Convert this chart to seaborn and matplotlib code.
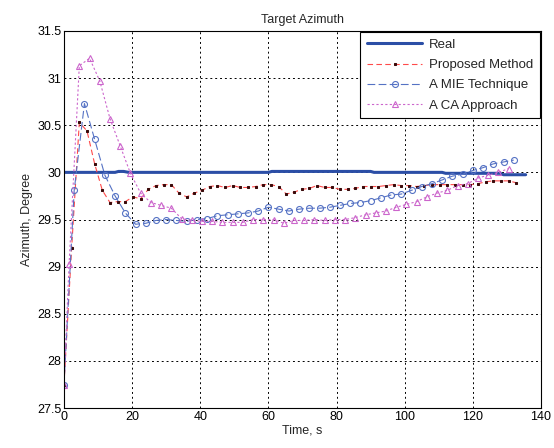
import numpy as np
import matplotlib
matplotlib.use("Agg")
import matplotlib.pyplot as plt
import seaborn as sns

# time grids (s)
t_prop = np.arange(0, 133, 2.25)
t_mie = np.arange(0, 133, 3.0)
t_ca = np.concatenate([[0.0], np.arange(1.5, 131, 3.0)])
t_real = [0, 15, 16, 17.5, 19, 60, 61, 90, 91, 111, 112, 128, 129, 135.5]

real = [30.0, 30.0, 30.01, 30.01, 30.0, 30.0, 30.01, 30.01, 30.0, 30.0,
        29.99, 29.99, 29.975, 29.975]

proposed = [27.75, 29.2, 30.53, 30.44, 30.09, 29.81, 29.68, 29.69, 29.69, 29.74,
            29.72, 29.82, 29.86, 29.87, 29.87, 29.78, 29.74, 29.78, 29.81, 29.85,
            29.86, 29.84, 29.86, 29.84, 29.84, 29.85, 29.87, 29.87, 29.85, 29.77,
            29.79, 29.82, 29.83, 29.86, 29.84, 29.84, 29.82, 29.82, 29.83, 29.85,
            29.85, 29.85, 29.86, 29.87, 29.86, 29.86, 29.85, 29.86, 29.87, 29.87,
            29.87, 29.87, 29.87, 29.87, 29.88, 29.90, 29.91, 29.91, 29.91, 29.89]

mie = [27.75, 29.81, 30.73, 30.35, 29.97, 29.75, 29.57, 29.45, 29.46, 29.49,
       29.50, 29.49, 29.48, 29.50, 29.51, 29.54, 29.55, 29.56, 29.57, 29.59,
       29.63, 29.61, 29.59, 29.61, 29.62, 29.62, 29.63, 29.65, 29.67, 29.68,
       29.70, 29.73, 29.76, 29.77, 29.81, 29.85, 29.88, 29.92, 29.96, 29.98,
       30.02, 30.05, 30.09, 30.11, 30.13]

ca = [27.75, 29.03, 31.13, 31.21, 30.97, 30.57, 30.28, 29.99, 29.78, 29.68,
      29.65, 29.62, 29.51, 29.49, 29.48, 29.48, 29.47, 29.47, 29.47, 29.50,
      29.50, 29.50, 29.46, 29.49, 29.49, 29.50, 29.49, 29.50, 29.50, 29.52,
      29.55, 29.57, 29.59, 29.63, 29.66, 29.69, 29.74, 29.78, 29.81, 29.86,
      29.88, 29.94, 29.97, 30.00, 30.04]

sns.set_style("white")
plt.rcParams['font.family'] = ['Liberation Sans', 'DejaVu Sans']

fig = plt.figure(figsize=(5.54, 4.48), dpi=100)
ax = fig.add_axes([0.1155, 0.089, 0.861, 0.842])

sns.lineplot(x=t_real, y=real, ax=ax, color='#2b4ea6', linewidth=2.2,
             label='Real', sort=False)
sns.lineplot(x=t_prop, y=proposed, ax=ax, color='#ff4a4a', linewidth=0.8,
             linestyle=(0, (5, 3)), marker='s', markersize=2.0,
             markerfacecolor='#3a0a0a', markeredgecolor='#3a0a0a',
             label='Proposed Method', sort=False)
sns.lineplot(x=t_mie, y=mie, ax=ax, color='#5572c4', linewidth=0.8,
             linestyle=(0, (7, 3)), marker='o', markersize=4.3,
             markerfacecolor='none', markeredgecolor='#5572c4', markeredgewidth=0.8,
             label='A MIE Technique', sort=False)
sns.lineplot(x=t_ca, y=ca, ax=ax, color='#cc66cc', linewidth=0.8,
             linestyle=(0, (2, 2)), marker='^', markersize=4.3,
             markerfacecolor='none', markeredgecolor='#cc66cc', markeredgewidth=0.8,
             label='A CA Approach', sort=False)

ax.set_xlim(0, 140)
ax.set_ylim(27.5, 31.5)
ax.set_xticks(np.arange(0, 141, 20))
ax.set_yticks(np.arange(27.5, 31.6, 0.5))
ax.set_yticklabels(['27.5', '28', '28.5', '29', '29.5', '30', '30.5', '31', '31.5'])
ax.tick_params(direction='in', length=3, labelsize=9, pad=2, colors='black')
ax.grid(True, color='black', linestyle=(0, (2, 3)), linewidth=0.7)
for s in ax.spines.values():
    s.set_color('black')
    s.set_linewidth(0.8)

ax.set_title('Target Azimuth', fontsize=9, pad=6)
ax.set_xlabel('Time, s', fontsize=9, labelpad=1)
ax.set_ylabel('Azimuth, Degree', fontsize=9, labelpad=3)

leg = ax.legend(loc='upper right', fontsize=9.5, frameon=True, fancybox=False,
                edgecolor='black', framealpha=1, borderaxespad=0.1,
                handlelength=4.2, labelspacing=0.6, borderpad=0.5,
                handletextpad=0.5)
leg.get_frame().set_linewidth(0.8)

fig.savefig('out.png', dpi=100)
